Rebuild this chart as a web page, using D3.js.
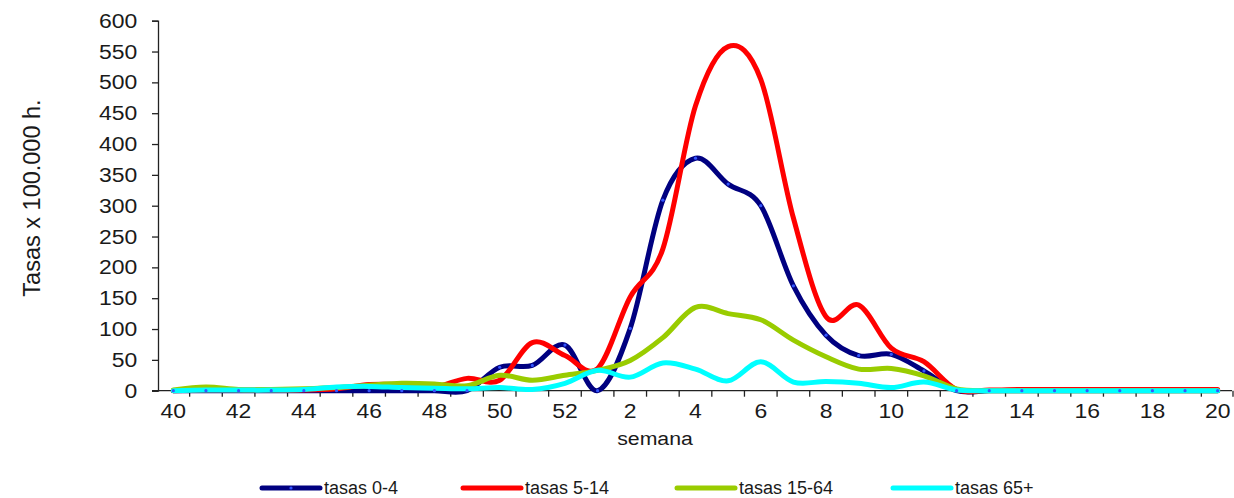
<!DOCTYPE html>
<html>
<head>
<meta charset="utf-8">
<script src="https://cdn.jsdelivr.net/npm/d3@7"></script>
<style>
  html, body { margin: 0; padding: 0; background: #fff; }
  svg { display: block; }
  text { font-family: "Liberation Sans", Arial, sans-serif; fill: #1a1a1a; }
</style>
</head>
<body>
<svg id="chart" width="1234" height="498"></svg>
<script>
// ---- data ----
const weeks = [40,41,42,43,44,45,46,47,48,49,50,51,52,1,2,3,4,5,6,7,8,9,10,11,12,13,14,15,16,17,18,19,20];
const yTicks = [0,50,100,150,200,250,300,350,400,450,500,550,600];
const xLabels = [40,42,44,46,48,50,52,2,4,6,8,10,12,14,16,18,20];
const tasas0_4   = [0,0,0,0,0,0,0,0,0,0,38,41,74,0,101,309,377,335,300,170,90,57,59,32,0,0,0,0,0,0,0,0,0];
const tasas5_14  = [0,1,1,1,1,3,10,10,6,20,17,78,57,36,152,230,462,558,505,280,120,139,69,47,2,1,2,2,2,2,2,2,2];
const tasas15_64 = [1,6,2,2,3,5,9,12,11,8,25,17,25,33,49,86,135,125,115,82,55,35,36,24,3,0,0,0,0,0,0,0,0];
const tasas65    = [0,1,1,1,2,6,7,5,4,3,5,2,12,33,22,45,35,16,47,14,15,12,5,14,1,0,0,0,0,0,0,0,0];
const seriesNames = ["tasas 0-4","tasas 5-14","tasas 15-64","tasas 65+"];
const seriesColors = ["#000080","#ff0000","#99cc00","#00ffff"];
const seriesData = [tasas0_4, tasas5_14, tasas15_64, tasas65];

// ---- layout ----
const svg = d3.select("#chart");
const x = d3.scaleBand().domain(weeks.map(String)).range([157, 1234]);
const y = d3.scaleLinear().domain([0, 600]).range([390.7, 20.7]);
const cx = i => x(String(weeks[i])) + x.bandwidth() / 2;
const SX = 1.12;

// y axis
const yAxis = d3.axisLeft(y).tickValues(yTicks).tickSize(6).tickPadding(12.5);
const gy = svg.append("g").attr("transform", "translate(158,0)").call(yAxis);
gy.select(".domain").attr("stroke", "#222").attr("stroke-width", 1.3);
gy.selectAll(".tick line").attr("stroke", "#222").attr("stroke-width", 1.3);
gy.selectAll(".tick text").attr("font-size", 20.5).attr("fill", "#1a1a1a")
  .attr("font-family", '"Liberation Sans", Arial, sans-serif')
  .attr("transform", `scale(${SX},1)`);

// x axis line
svg.append("line").attr("x1", 152).attr("x2", 1232).attr("y1", y(0)).attr("y2", y(0))
  .attr("stroke", "#222").attr("stroke-width", 1.3);
// x tick marks at category boundaries
const bounds = weeks.map(w => x(String(w))).concat([x.range()[1] - 1]);
svg.append("g").selectAll("line").data(bounds.slice(1)).join("line")
  .attr("x1", d => d).attr("x2", d => d)
  .attr("y1", y(0)).attr("y2", y(0) + 6)
  .attr("stroke", "#222").attr("stroke-width", 1.3);
// x labels
const xAxis = d3.axisBottom(x).tickValues(xLabels.map(String)).tickSize(0).tickPadding(13);
const gx = svg.append("g").attr("transform", `translate(0,${y(0)})`).call(xAxis);
gx.select(".domain").remove();
gx.selectAll(".tick text").attr("font-size", 20.5).attr("fill", "#1a1a1a")
  .attr("font-family", '"Liberation Sans", Arial, sans-serif')
  .attr("transform", `scale(${SX},1)`);

// axis titles
svg.append("text").attr("transform", `translate(655,445) scale(${SX},1)`)
  .attr("text-anchor", "middle").attr("font-size", 19).text("semana");
svg.append("text").attr("transform", "translate(40,198) rotate(-90)")
  .attr("text-anchor", "middle").attr("font-size", 23.5).text("Tasas x 100.000 h.");

// lines
const line = d3.line().x((d, i) => cx(i)).y(d => y(d)).curve(d3.curveCardinal.tension(0));
seriesData.forEach((s, k) => {
  svg.append("path").datum(s).attr("d", line)
    .attr("fill", "none").attr("stroke", seriesColors[k])
    .attr("stroke-width", 5).attr("stroke-linejoin", "round").attr("stroke-linecap", "round");
});
// markers of first series
svg.append("g").selectAll("circle").data(tasas0_4).join("circle")
  .attr("cx", (d, i) => cx(i)).attr("cy", d => y(d)).attr("r", 1.6)
  .attr("fill", "#3355ff");

// legend
const legX = [262, 463, 677, 893];
const legY = 488;
seriesNames.forEach((n, k) => {
  const g = svg.append("g");
  g.append("line").attr("x1", legX[k]).attr("x2", legX[k] + 58).attr("y1", legY).attr("y2", legY)
    .attr("stroke", seriesColors[k]).attr("stroke-width", 5).attr("stroke-linecap", "round");
  if (k === 0) g.append("circle").attr("cx", legX[k] + 29).attr("cy", legY).attr("r", 1.6).attr("fill", "#3355ff");
  g.append("text").attr("transform", `translate(${legX[k] + 62},${legY + 6})`)
    .attr("font-size", 18).text(n);
});
</script>
</body>
</html>
